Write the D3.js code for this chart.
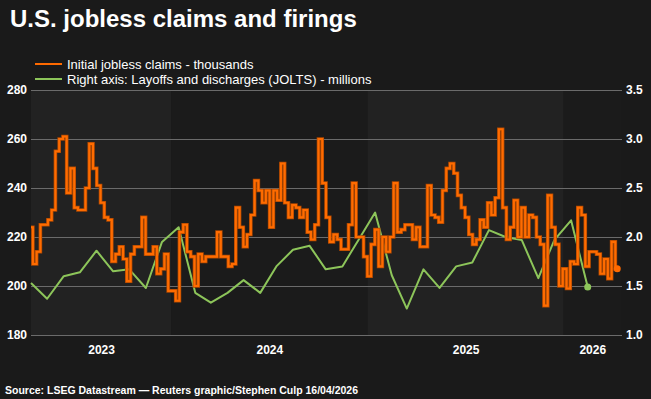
<!DOCTYPE html>
<html>
<head>
<meta charset="utf-8">
<script src="https://cdn.jsdelivr.net/npm/d3@7"></script>
<style>
  html, body { margin: 0; padding: 0; background: #1a1a1a; }
  svg { display: block; font-family: Arial, "Liberation Sans", sans-serif; }
</style>
</head>
<body>
<svg id="chart" width="651" height="399"></svg>
<script>
// weekly initial jobless claims (thousands), week ending Saturdays from 2023-04-15
const claimsStart = new Date(2023, 3, 15);
const claims = [
  224, 209, 214, 225, 225, 227, 231, 255, 260, 261,
  238, 248, 232, 231, 231, 240, 258, 248, 241, 234,
  228, 227, 210, 213, 216, 211, 202, 213, 216, 216,
  228, 213, 213, 216, 205, 207, 213, 198, 198, 194,
  222, 225, 214, 212, 200, 213, 210, 212, 212, 212,
  222, 212, 212, 208, 209, 232, 224, 216, 221, 229,
  243, 239, 234, 239, 224, 239, 235, 250, 234, 228,
  233, 232, 228, 231, 222, 219, 225, 260, 242, 228,
  218, 221, 219, 215, 215, 225, 242, 220, 220, 212,
  204, 217, 223, 208, 220, 214, 220, 242, 222, 223,
  225, 225, 219, 224, 216, 216, 241, 229, 228, 226,
  239, 248, 250, 246, 237, 232, 228, 221, 217, 219,
  227, 224, 234, 229, 236, 264, 232, 219, 224, 235,
  220, 232, 220, 229, 228, 220, 217, 192, 237, 224,
  217, 200, 207, 199, 210, 209, 232, 229, 208, 214,
  214, 213, 205, 211, 203, 218, 207
];

// monthly JOLTS layoffs and discharges (millions), Apr 2023 - Feb 2026
const joltsStart = [2023, 3];
const jolts = [
  1.53, 1.37, 1.60, 1.64, 1.86, 1.65, 1.67, 1.48, 1.95,
  2.10, 1.43, 1.33, 1.43, 1.56, 1.43, 1.70, 1.87, 1.91, 1.67, 1.70, 1.97,
  2.25, 1.61, 1.27, 1.67, 1.48, 1.70, 1.74, 2.07, 2.00, 1.97, 1.58, 1.97,
  2.17, 1.49
];

const leftTicks = [180, 200, 220, 240, 260, 280];
const rightTicks = [1.0, 1.5, 2.0, 2.5, 3.0, 3.5];
const years = [2023, 2024, 2025, 2026];

const legendItems = [
  {label: "Initial jobless claims - thousands", color: "#ff6a00"},
  {label: "Right axis: Layoffs and discharges (JOLTS) - millions", color: "#8dc55a"}
];

const claimsData = claims.map((v, i) => ({date: d3.timeDay.offset(claimsStart, i * 7), value: v}));
const joltsData = jolts.map((v, i) => ({date: new Date(joltsStart[0], joltsStart[1] + i, 15), value: v}));

const margin = {top: 90, right: 30, bottom: 64, left: 31};
const width = 651, height = 399;
const svg = d3.select("#chart");

const x = d3.scaleTime()
  .domain([new Date(2023, 3, 15), new Date(2026, 3, 18)])
  .range([margin.left, width - margin.right]);
const yL = d3.scaleLinear().domain([180, 280]).range([height - margin.bottom, margin.top]);
const yR = d3.scaleLinear().domain([1.0, 3.5]).range([height - margin.bottom, margin.top]);

// alternating year bands
const bands = years.map(yr => {
  const x0 = Math.max(x(new Date(yr, 0, 1)), x.range()[0]);
  const x1 = Math.min(x(new Date(yr + 1, 0, 1)), x.range()[1]);
  return {yr, x0, x1};
});
svg.append("g").selectAll("rect")
  .data(bands)
  .enter().append("rect")
  .attr("x", d => d.x0)
  .attr("y", margin.top)
  .attr("width", d => d.x1 - d.x0)
  .attr("height", yL.range()[0] - margin.top)
  .attr("fill", (d, i) => i % 2 === 0 ? "#222222" : "#1b1b1b");

// gridlines
svg.append("g").selectAll("line")
  .data(leftTicks)
  .enter().append("line")
  .attr("x1", margin.left)
  .attr("x2", width - margin.right + 1)
  .attr("y1", d => Math.round(yL(d)) + 0.5)
  .attr("y2", d => Math.round(yL(d)) + 0.5)
  .attr("stroke", "#6b6b6b")
  .attr("stroke-width", 1);

// left axis
const leftAxis = svg.append("g")
  .attr("transform", `translate(${margin.left - 4},0)`)
  .call(d3.axisLeft(yL).tickValues(leftTicks).tickSize(0).tickPadding(0));
// right axis
const rightAxis = svg.append("g")
  .attr("transform", `translate(${width - margin.right + 5},0)`)
  .call(d3.axisRight(yR).tickValues(rightTicks).tickFormat(d3.format(".1f")).tickSize(0).tickPadding(0));
// bottom axis, labels centred in visible part of each year
const bottomAxis = svg.append("g")
  .attr("transform", `translate(0,${height - margin.bottom})`)
  .call(d3.axisBottom(x).tickValues(bands.map(b => x.invert((b.x0 + b.x1) / 2)))
    .tickFormat((d, i) => years[i]).tickSize(0).tickPadding(10));

[leftAxis, rightAxis, bottomAxis].forEach(a => {
  a.select(".domain").remove();
  a.selectAll("text")
    .attr("fill", "#ffffff")
    .style("font-size", "12px")
    .style("font-weight", "bold")
    .style("font-family", "Arial, 'Liberation Sans', sans-serif");
});

// JOLTS line
const joltsLine = d3.line()
  .x(d => x(d.date))
  .y(d => yR(d.value));
svg.append("path")
  .datum(joltsData)
  .attr("fill", "none")
  .attr("stroke", "#8dc55a")
  .attr("stroke-width", 2)
  .attr("stroke-linejoin", "round")
  .attr("d", joltsLine);
svg.append("circle")
  .attr("cx", x(joltsData[joltsData.length - 1].date))
  .attr("cy", yR(joltsData[joltsData.length - 1].value))
  .attr("r", 3.5)
  .attr("fill", "#8dc55a");

// claims step line, darker edge underneath
const claimsLine = d3.line()
  .curve(d3.curveStep)
  .x(d => x(d.date))
  .y(d => yL(d.value));
svg.append("path")
  .datum(claimsData)
  .attr("fill", "none")
  .attr("stroke", "#b04800")
  .attr("stroke-width", 3.6)
  .attr("d", claimsLine);
svg.append("path")
  .datum(claimsData)
  .attr("fill", "none")
  .attr("stroke", "#ff6c00")
  .attr("stroke-width", 2.1)
  .attr("d", claimsLine);
svg.append("circle")
  .attr("cx", x(claimsData[claimsData.length - 1].date))
  .attr("cy", yL(claimsData[claimsData.length - 1].value))
  .attr("r", 3.5)
  .attr("fill", "#ff6a00");

// title
svg.append("text")
  .attr("x", 10)
  .attr("y", 27)
  .attr("fill", "#ffffff")
  .style("font-size", "24px")
  .style("font-weight", "bold")
  .text("U.S. jobless claims and firings");

// legend
const legend = svg.append("g").selectAll("g")
  .data(legendItems)
  .enter().append("g")
  .attr("transform", (d, i) => `translate(35,${64 + i * 15})`);
legend.append("line")
  .attr("x1", 0).attr("x2", 27)
  .attr("stroke", d => d.color)
  .attr("stroke-width", 2);
legend.append("text")
  .attr("x", 32)
  .attr("y", 5)
  .attr("fill", "#ffffff")
  .style("font-size", "13px")
  .text(d => d.label);

// source
svg.append("text")
  .attr("x", 5)
  .attr("y", 394)
  .attr("fill", "#ffffff")
  .style("font-size", "10.5px")
  .style("font-weight", "bold")
  .text("Source: LSEG Datastream \u2014 Reuters graphic/Stephen Culp 16/04/2026");
</script>
</body>
</html>
